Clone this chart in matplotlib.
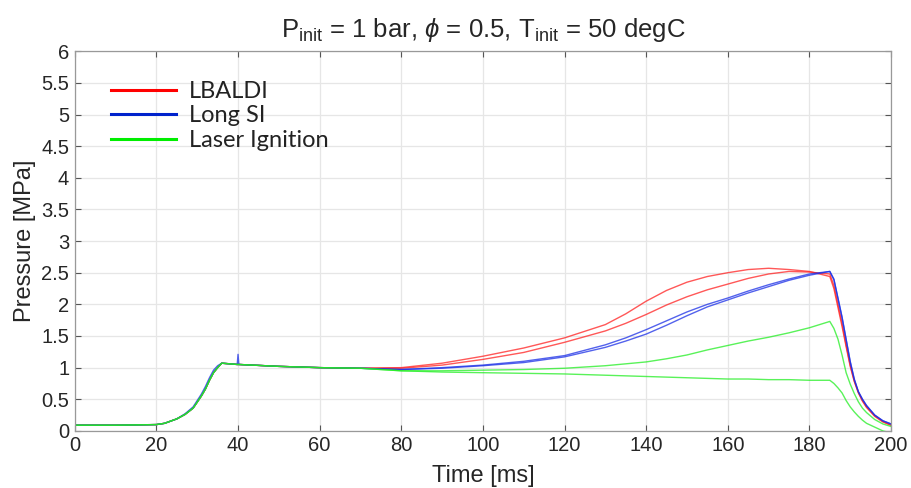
import matplotlib
matplotlib.use("Agg")
import matplotlib.pyplot as plt
from matplotlib.lines import Line2D

plt.rcParams['font.family'] = ['Liberation Sans', 'DejaVu Sans']
plt.rcParams['mathtext.fontset'] = 'custom'
plt.rcParams['mathtext.rm'] = 'Liberation Sans'
plt.rcParams['mathtext.it'] = 'Liberation Sans:italic'

# ---- data ----
t_early = [0, 10, 20, 22, 25, 27, 29, 31, 32, 33, 34, 35, 36, 38, 39.8, 40, 40.2, 50, 60, 70]
early_common = [0.09, 0.09, 0.10, 0.12, 0.19, 0.26, 0.36, 0.55, 0.66, 0.80, 0.92, 1.00, 1.07, 1.06,
                1.05, 1.05, 1.05, 1.02, 1.00, 0.99]
early_blue_spike = [0.09, 0.09, 0.10, 0.12, 0.19, 0.27, 0.38, 0.58, 0.70, 0.84, 0.96, 1.03, 1.07, 1.06,
                    1.05, 1.21, 1.05, 1.02, 1.00, 0.99]

t_late = [80, 90, 100, 110, 120, 130, 135, 140, 145, 150, 155, 160, 165, 170, 175, 180, 185,
          186, 187, 188, 189, 190, 191, 192, 193, 194, 196, 198, 200]

lbaldi_1 = [1.00, 1.07, 1.18, 1.31, 1.47, 1.68, 1.85, 2.05, 2.22, 2.35, 2.44, 2.50, 2.55, 2.57, 2.55, 2.52, 2.44,
            2.25, 1.95, 1.65, 1.33, 1.02, 0.78, 0.60, 0.47, 0.37, 0.23, 0.14, 0.09]
lbaldi_2 = [0.99, 1.04, 1.13, 1.24, 1.40, 1.58, 1.70, 1.84, 1.99, 2.12, 2.23, 2.32, 2.41, 2.48, 2.52, 2.51, 2.48,
            2.30, 2.00, 1.70, 1.36, 1.04, 0.79, 0.61, 0.48, 0.38, 0.24, 0.15, 0.09]
longsi_1 = [0.97, 1.00, 1.04, 1.10, 1.19, 1.36, 1.47, 1.60, 1.74, 1.88, 2.00, 2.10, 2.21, 2.31, 2.40, 2.48, 2.52,
            2.40, 2.10, 1.80, 1.45, 1.10, 0.82, 0.62, 0.50, 0.40, 0.25, 0.16, 0.11]
longsi_2 = [0.97, 0.99, 1.03, 1.08, 1.17, 1.32, 1.42, 1.53, 1.67, 1.82, 1.96, 2.07, 2.18, 2.28, 2.38, 2.46, 2.52,
            2.39, 2.09, 1.79, 1.44, 1.09, 0.81, 0.62, 0.50, 0.40, 0.25, 0.16, 0.11]
laser_1 = [0.95, 0.95, 0.96, 0.97, 0.99, 1.03, 1.06, 1.09, 1.14, 1.20, 1.28, 1.35, 1.42, 1.48, 1.55, 1.63, 1.73,
           1.62, 1.45, 1.20, 0.92, 0.74, 0.59, 0.46, 0.36, 0.29, 0.18, 0.11, 0.07]
laser_2 = [0.95, 0.93, 0.92, 0.91, 0.90, 0.88, 0.87, 0.86, 0.85, 0.84, 0.83, 0.82, 0.82, 0.81, 0.81, 0.80, 0.80,
           0.75, 0.68, 0.60, 0.48, 0.38, 0.30, 0.23, 0.17, 0.12, 0.06, 0.00, -0.03]

labels = ["LBALDI", "Long SI", "Laser Ignition"]
x_ticks = [0, 20, 40, 60, 80, 100, 120, 140, 160, 180, 200]
y_ticks = [0, 0.5, 1, 1.5, 2, 2.5, 3, 3.5, 4, 4.5, 5, 5.5, 6]
y_ticklabels = ["0", "0.5", "1", "1.5", "2", "2.5", "3", "3.5", "4", "4.5", "5", "5.5", "6"]

RED = '#ff2020'
BLUE = '#1a2ee6'
GREEN = '#22ee22'

fig = plt.figure(figsize=(9.12, 4.88), dpi=100)
ax = fig.add_axes([0.082, 0.117, 0.895, 0.778])

t_all = t_early + t_late
series = [
    (early_common + lbaldi_1, RED),
    (early_common + lbaldi_2, RED),
    (early_common + longsi_2, BLUE),
    (early_blue_spike + longsi_1, BLUE),
    (early_common + laser_2, GREEN),
    (early_common + laser_1, GREEN),
]
for vals, c in series:
    ax.plot(t_all, vals, color=c, lw=1.0, alpha=0.75)

handles = [Line2D([], [], color='#ff0000', lw=2.2),
           Line2D([], [], color='#0022cc', lw=2.2),
           Line2D([], [], color='#00ee00', lw=2.2)]
leg = ax.legend(handles, labels, loc='upper left', frameon=False,
                prop={'family': ['Lato', 'DejaVu Sans'], 'size': 17},
                handlelength=2.75, handletextpad=0.55, labelspacing=0.15,
                bbox_to_anchor=(0.033, 0.947), borderaxespad=0.0)
for txt in leg.get_texts():
    txt.set_color('#222222')

ax.set_xlim(0, 200)
ax.set_ylim(0, 6)
ax.set_xticks(x_ticks)
ax.set_yticks(y_ticks)
ax.set_yticklabels(y_ticklabels)
ax.grid(True, color='#e6e6e6', lw=0.9)
ax.set_axisbelow(True)
ax.tick_params(direction='in', top=True, right=True, length=4, width=0.8,
               colors='#555555', labelcolor='#262626', labelsize=14.5, pad=4)
for s in ax.spines.values():
    s.set_color('#999999')
    s.set_linewidth(0.9)

ax.set_xlabel("Time [ms]", fontsize=17, color='#262626', labelpad=7)
ax.set_ylabel("Pressure [MPa]", fontsize=17, color='#262626', labelpad=4)
ax.set_title(r"P$_{\mathrm{init}}$ = 1 bar, $\phi$ = 0.5, T$_{\mathrm{init}}$ = 50 degC",
             fontsize=18.5, color='#262626', pad=10)

fig.savefig("out.png", dpi=100)
